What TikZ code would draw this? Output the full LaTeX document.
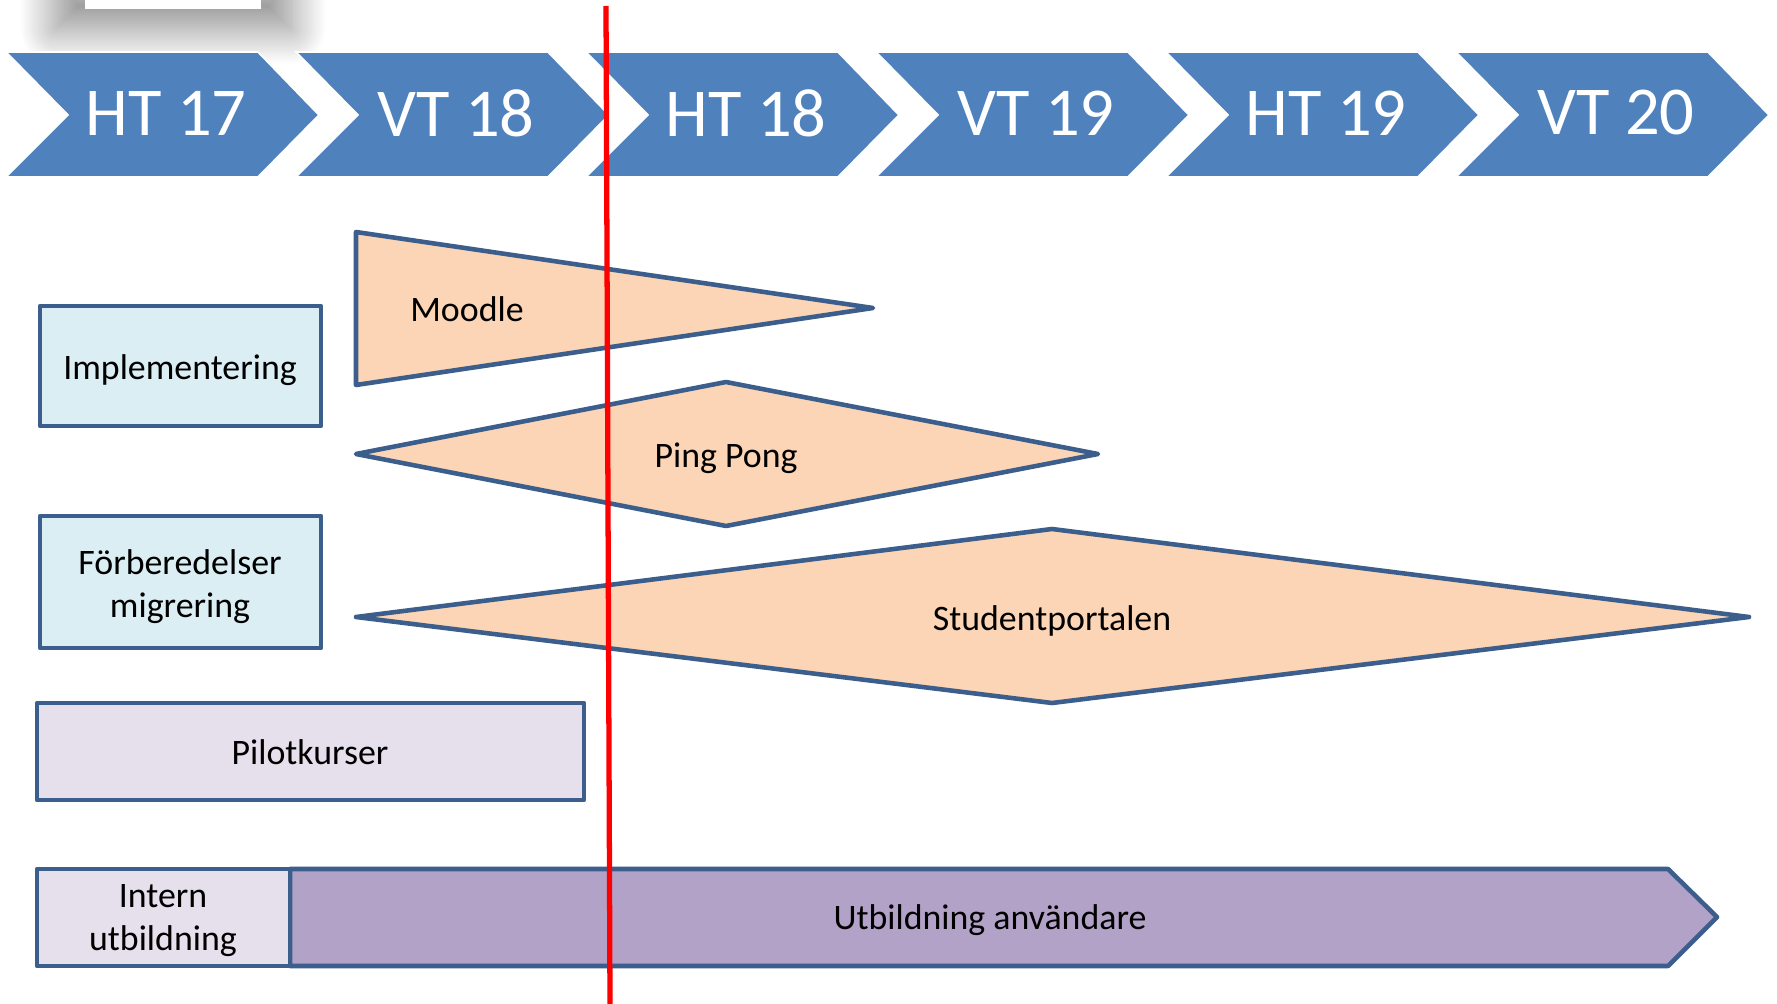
\documentclass[tikz,border=0pt]{standalone}
\usepackage{fontspec}
\setmainfont{Carlito}
\usetikzlibrary{shadows.blur}
\definecolor{chevblue}{HTML}{4F81BD}
\definecolor{edgeblue}{HTML}{3B5E8C}
\definecolor{peach}{HTML}{FBD5B5}
\definecolor{iceblue}{HTML}{DBEEF4}
\definecolor{lavender}{HTML}{E5E0EC}
\definecolor{lilac}{HTML}{B3A2C7}
\tikzset{
  term/.style={text=white,font=\fontsize{19.5}{23}\selectfont},
  block/.style={draw=edgeblue,line width=1.3pt,line join=round},
  lbl/.style={text=black,align=center,font=\fontsize{10.2}{12.2}\selectfont},
  nowline/.style={red,line width=1.5pt}
}
\begin{document}
\begin{tikzpicture}[x=0.1mm,y=-0.1mm]
	\useasboundingbox (0,0) rectangle (1777,1004);
	\path[blur shadow={shadow xshift=0pt,shadow yshift=-1.3mm,shadow blur radius=3.5mm,shadow blur steps=30,shadow opacity=45}] (55,-30) rectangle (291,16);
	\fill[white] (85,-30) rectangle (261,9);
	\foreach \lab [count=\i from 0] in {HT 17,VT 18,HT 18,VT 19,HT 19,VT 20}
		\filldraw[fill=chevblue,draw=white,line width=0.5pt,xshift=\i*2.9cm] (6,52)--(258,52)--(319,115)--(258,177)--(6,177)--(68,115)--cycle
		node[term] (term\i) at (166,113) {\lab};
	\draw[block,fill=peach] (356,232)--(873,308)--(356,385)--cycle node[lbl] (moodle) at (467,309) {Moodle};
	\draw[block,fill=peach] (356,454)--(726,382)--(1098,454)--(726,526)--cycle node[lbl] (pingpong) at (726,458) {Ping Pong};
	\draw[block,fill=peach] (356,617)--(1052,529)--(1749,617)--(1052,703)--cycle node[lbl] (studport) at (1052,621) {Studentportalen};
	\draw[block,fill=iceblue] (40,306) rectangle (321,426) node[lbl] (impl) at (180,370) {Implementering};
	\draw[block,fill=iceblue] (40,516) rectangle (321,648) node[lbl] (forb) at (180,587) {Förberedelser\\migrering};
	\draw[block,fill=lavender] (37,703) rectangle (584,800) node[lbl] (pilot) at (310,752) {Pilotkurser};
	\draw[block,fill=lilac] (290,869)--(1668,869)--(1717,917)--(1668,966)--(290,966)--cycle node[lbl] (utb) at (990,920) {Utbildning användare};
	\draw[block,fill=lavender] (37,869) rectangle (290,966) node[lbl] (intern) at (163,921) {Intern\\utbildning};
	\coordinate (nowtop) at (606,6);
	\coordinate (nowbot) at (610,1004);
	\draw[nowline] (nowtop)--(nowbot);
\end{tikzpicture}
\end{document}
